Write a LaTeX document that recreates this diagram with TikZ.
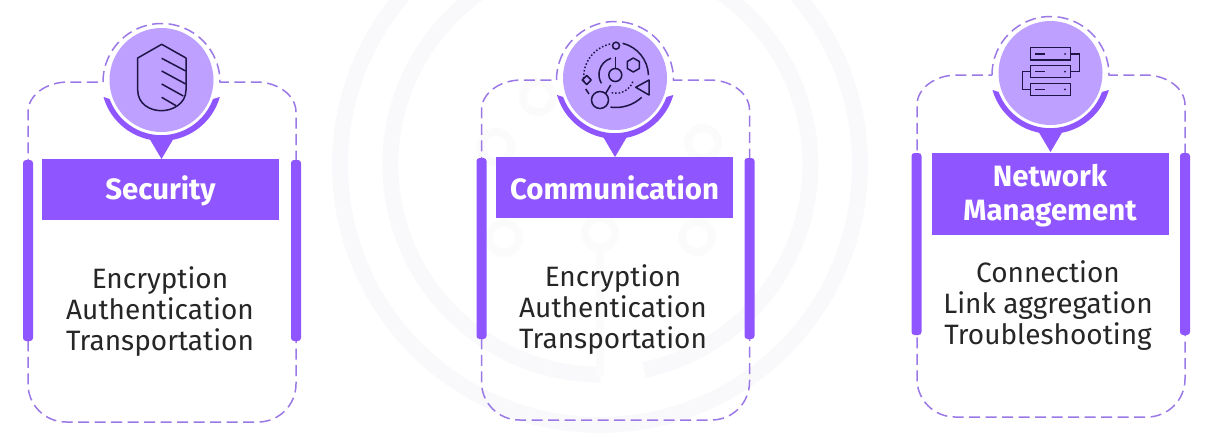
\documentclass[tikz,border=0pt]{standalone}
\usepackage{fontspec}
\setmainfont{Fira Sans}
\usetikzlibrary{positioning}
\definecolor{barviolet}{HTML}{8F55FF}
\definecolor{discviolet}{HTML}{BDA0FF}
\definecolor{dashviolet}{HTML}{9A78E6}
\definecolor{iconink}{HTML}{1E1446}
\definecolor{ringgray}{HTML}{F9F9FB}
\definecolor{faintgray}{HTML}{FBFBFC}
\tikzset{
  disc/.style={
    circle, fill=discviolet, minimum size=104pt, inner sep=0pt
  },
  headbox/.style={
    rectangle, fill=barviolet, minimum width=237pt, inner sep=0pt
  },
  headtext/.style={
    text=white, inner sep=0pt, align=center, font=\fontsize{29.4}{34}\selectfont\bfseries
  },
  sidebar/.style={
    rectangle, rounded corners=3pt, fill=barviolet, minimum width=10pt, inner sep=0pt
  },
  bodytext/.style={
    align=center, text=black!85, inner sep=0pt, font=\fontsize{28}{31}\selectfont
  },
  frameline/.style={
    draw=dashviolet, line width=1.5pt, dash pattern=on 11pt off 5.5pt
  },
  icon/.style={
    draw=iconink, line width=1.5pt
  },
  ring/.style={
    draw=ringgray, line width=16pt
  },
  smallring/.style={
    draw=faintgray, line width=8pt
  }
}
% x y of disc centre, bottom of frame
\newcommand{\cardframe}[3]{
  \draw[frameline] (#1-58.5,#2+2) arc (-180:0:58.5) -- (#1+94.5,#2+2)
    arc (-90:0:40 and 30) -- (#1+134.5,#3-38) arc (0:90:38) -- (#1-95.5,#3)
    arc (90:180:38) -- (#1-133.5,#2+32) arc (180:270:40 and 30) -- (#1-58.5,#2+2);
  \fill[barviolet] (#1-58,#2+17) arc (164:16:60.5) -- (#1+51.5,#2+19)
    arc (20:160:55) -- cycle;
  \fill[barviolet] (#1-13,#2+57) -- (#1+13,#2+57) -- (#1,#2+79) -- cycle;
}
\begin{document}
\begin{tikzpicture}[x=1pt,y=-1pt]
  \useasboundingbox (0,0) rectangle (1207,432);

  \draw[ring] (600,165) circle (260);
  \draw[ring] (644,370) arc (78:-270:210);
  \draw[smallring] (600,248) -- (600,375);
  \draw[smallring] (600,233) circle (15);
  \draw[smallring] (504,238) circle (15);
  \draw[smallring] (697,237) circle (15);
  \draw[smallring] (496,147) circle (15);
  \draw[smallring] (703,143) circle (15);
  \draw[smallring] (538,97) circle (15);

  \cardframe{161.5}{80}{422}
  \node[disc] (shielddisc) at (161.5,80) {};
  \node[headbox, minimum height=61pt] (securityhead) at (160.5,189.5) {};
  \node[headtext] (securitylabel) at (160.5,191) {Security};
  \node[sidebar, minimum height=181pt] (securityleft) at (28,250.5) {};
  \node[sidebar, minimum height=181pt] (securityright) at (296,250.5) {};
  \node[bodytext] (securitytext) at (160,312) {Encryption\\Authentication\\Transportation};
  \draw[icon, line join=round] (161.7,44.3) -- (186,58) -- (186,90)
    .. controls (186,104) and (172,110.7) .. (161.5,110.7)
    .. controls (150,110.7) and (137.7,104) .. (137.7,90) -- (137.7,58) -- cycle;
  \draw[icon] (161.7,58.3) -- (185.7,71);
  \draw[icon] (161.7,71) -- (185.7,84);
  \draw[icon] (161.7,84) -- (183.3,96);
  \draw[icon] (161.7,97.3) -- (176,105.7);

  \cardframe{615}{78}{420}
  \node[disc] (orbitdisc) at (615,78) {};
  \node[headbox, minimum height=61pt] (commhead) at (614.5,187.5) {};
  \node[headtext] (commlabel) at (614.5,188) {Communication};
  \node[sidebar, minimum height=181pt] (commleft) at (481.5,248.5) {};
  \node[sidebar, minimum height=181pt] (commright) at (749.5,248.5) {};
  \node[bodytext] (commtext) at (613,310) {Encryption\\Authentication\\Transportation};
  \draw[icon] (616,45.7) circle (3.5);
  \draw[icon] (615.3,75) circle (6.5);
  \draw[icon] (600,100) circle (8.5);
  \draw[icon] (615.3,56.7) -- (615.3,68);
  \draw[icon] (605.7,93.3) -- (610.7,85);
  \draw[icon] (622.7,43.3) arc (-76:-2:34);
  \draw[icon] (641.7,97.3) arc (47:98:38);
  \draw[icon] (611,58.3) arc (-107:-211:17);
  \draw[icon, dotted] (610,44) arc (-103:-190:34);
  \draw[icon] (585.7,89) -- (589,94);
  \draw[icon, dotted] (611.7,92.7) arc (104:16:18);
  \draw[icon, line join=round] (633.3,58) -- (639.3,61.5) -- (639.3,68.5) -- (633.3,72) -- (627.3,68.5) -- (627.3,61.5) -- cycle;
  \draw[icon, line join=round] (649,80) -- (635.7,87.3) -- (649,95) -- cycle;
  \draw[icon, line join=round] (586.7,75.5) -- (591.2,80) -- (586.7,84.5) -- (582.2,80) -- cycle;

  \cardframe{1050.5}{73}{417}
  \node[disc] (serverdisc) at (1050.5,73) {};
  \node[headbox, minimum height=82pt] (networkhead) at (1050,194) {};
  \node[headtext] (networklabel) at (1050,196) {Network\\Management};
  \node[sidebar, minimum height=182pt] (networkleft) at (916.5,244) {};
  \node[sidebar, minimum height=182pt] (networkright) at (1185,244) {};
  \node[bodytext] (networktext) at (1048,306) {Connection\\Link aggregation\\Troubleshooting};
  \draw[icon] (1030.7,47.7) rectangle (1070.7,60);
  \draw[icon] (1030.7,65.7) rectangle (1070.7,77.7);
  \draw[icon] (1030.7,83.3) rectangle (1070.7,95.7);
  \draw[icon] (1035,54) -- (1045,54);
  \draw[icon] (1035,71.7) -- (1045,71.7);
  \draw[icon] (1035,89.3) -- (1045,89.3);
  \fill[iconink] (1065,54) circle (1) (1065,71.7) circle (1) (1065,89.3) circle (1);
  \draw[icon] (1070.7,54) -- (1079.3,54) -- (1079.3,71.7) -- (1070.7,71.7);
  \draw[icon] (1030.7,71.7) -- (1022.7,71.7) -- (1022.7,89.3) -- (1030.7,89.3);
\end{tikzpicture}
\end{document}
